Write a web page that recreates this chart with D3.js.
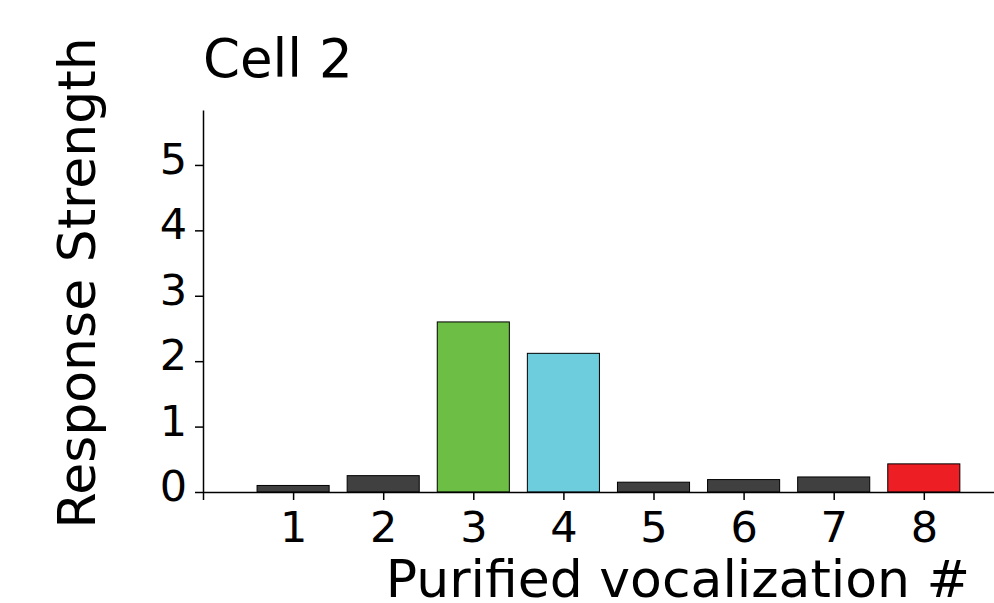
<!DOCTYPE html>
<html>
<head>
<meta charset="utf-8">
<script src="https://cdn.jsdelivr.net/npm/d3@7"></script>
<style>
    body { margin: 0; background: #fff; }
    svg { display: block; font-family: "DejaVu Sans", sans-serif; }
</style>
</head>
<body>
<div id="chart"></div>
<script>
    // Chart data
    const vocalizations = [1, 2, 3, 4, 5, 6, 7, 8];
    const responses = [0.1, 0.25, 2.6, 2.12, 0.15, 0.19, 0.23, 0.43];
    const barColors = ["#404040", "#404040", "#6dbe45", "#6ecddd", "#404040", "#404040", "#404040", "#ed1f24"];
    const yTicks = [0, 1, 2, 3, 4, 5];
    const xTicks = [0, 1, 2, 3, 4, 5, 6, 7, 8];

    (function () {
        const width = 994, height = 603;

        // Plot area in page pixels
        const plotLeft = 203, plotBottom = 492, plotTop = 110;

        const svg = d3.select("#chart")
            .append("svg")
            .attr("width", width)
            .attr("height", height);

        // Scales
        const x = d3.scaleLinear().domain([0, 8.8]).range([plotLeft, plotLeft + 90.1 * 8.8]);
        const y = d3.scaleLinear().domain([0, 5.84]).range([plotBottom, plotTop]);
        const barWidth = 0.8;

        // Bars
        svg.append("g")
            .selectAll("rect")
            .data(vocalizations)
            .enter()
            .append("rect")
            .attr("x", (d) => x(d - barWidth / 2))
            .attr("y", (d, i) => y(responses[i]))
            .attr("width", x(barWidth) - x(0))
            .attr("height", (d, i) => y(0) - y(responses[i]))
            .attr("fill", (d, i) => barColors[i])
            .attr("stroke", "#000")
            .attr("stroke-width", 1);

        // Y axis
        const yAxis = d3.axisLeft(y)
            .tickValues(yTicks)
            .tickSize(8)
            .tickSizeOuter(0)
            .tickPadding(8)
            .tickFormat(d3.format("d"));

        const yAxisGroup = svg.append("g")
            .attr("transform", `translate(${plotLeft},0)`)
            .call(yAxis);
        yAxisGroup.select(".domain").attr("stroke", "#000").attr("stroke-width", 1.5);
        yAxisGroup.selectAll(".tick line").attr("stroke", "#000").attr("stroke-width", 1.5);
        yAxisGroup.selectAll(".tick text")
            .attr("font-size", 43)
            .attr("font-family", "DejaVu Sans")
            .attr("fill", "#000")
            .attr("dy", "0.2em");

        // X axis
        const xAxis = d3.axisBottom(x)
            .tickValues(xTicks)
            .tickSize(8)
            .tickSizeOuter(0)
            .tickPadding(10)
            .tickFormat((d) => (d === 0 ? "" : d));

        const xAxisGroup = svg.append("g")
            .attr("transform", `translate(0,${plotBottom})`)
            .call(xAxis);
        xAxisGroup.select(".domain").attr("stroke", "#000").attr("stroke-width", 1.5);
        xAxisGroup.selectAll(".tick line").attr("stroke", "#000").attr("stroke-width", 1.5);
        xAxisGroup.selectAll(".tick text")
            .attr("font-size", 43)
            .attr("font-family", "DejaVu Sans")
            .attr("fill", "#000")
            .attr("dy", "0.75em");

        // Title
        svg.append("text")
            .attr("x", plotLeft)
            .attr("y", 77)
            .attr("font-size", 53)
            .attr("fill", "#000")
            .text("Cell 2");

        // Axis labels
        svg.append("text")
            .attr("x", 678)
            .attr("y", 597)
            .attr("text-anchor", "middle")
            .attr("font-size", 52)
            .attr("fill", "#000")
            .text("Purified vocalization #");

        svg.append("text")
            .attr("transform", "translate(95,283) rotate(-90)")
            .attr("text-anchor", "middle")
            .attr("font-size", 52)
            .attr("fill", "#000")
            .text("Response Strength");
    })();
</script>
</body>
</html>
